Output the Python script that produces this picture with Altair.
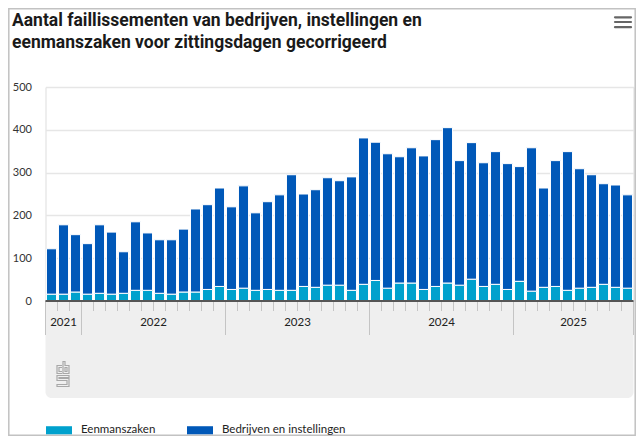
import altair as alt
import pandas as pd

# ---- data (Oct 2021 - Oct 2025, monthly) ----
month_labels = (
    ["2021 okt", "2021 nov", "2021 dec"]
    + [f"{y} {m}" for y in (2022, 2023, 2024) for m in
       ["jan", "feb", "mrt", "apr", "mei", "jun", "jul", "aug", "sep", "okt", "nov", "dec"]]
    + [f"2025 {m}" for m in ["jan", "feb", "mrt", "apr", "mei", "jun", "jul", "aug", "sep", "okt"]]
)
eenmanszaken = [16, 16, 21, 16, 18, 16, 18, 25, 25, 18, 16, 21, 21, 27, 34,
                27, 30, 25, 27, 25, 25, 34, 32, 37, 37, 25, 39,
                48, 30, 42, 42, 27, 34, 42, 37, 51, 34, 39, 27,
                46, 23, 32, 34, 25, 30, 32, 39, 32, 30]
bedrijven = [106, 162, 134, 118, 160, 145, 97, 160, 134, 125, 127, 147, 194, 198, 230,
             193, 239, 181, 205, 223, 270, 216, 228, 251, 244, 265, 342,
             323, 314, 295, 316, 312, 343, 363, 291, 319, 289, 310, 294,
             268, 335, 232, 294, 324, 279, 263, 235, 239, 218]
series_names = ["Eenmanszaken", "Bedrijven en instellingen"]
series_colors = ["#00a1cd", "#0058b8"]

years = ["2021", "2022", "2023", "2024", "2025"]
year_first = [0, 3, 15, 27, 39]
year_last = [2, 14, 26, 38, 48]
y_ticks = [0, 100, 200, 300, 400, 500]

title_lines = ["Aantal faillissementen van bedrijven, instellingen en",
               "eenmanszaken voor zittingsdagen gecorrigeerd"]

FONT = "Lato"
TFONT = "Roboto"
W, H = 588, 214
N = len(month_labels)

rows = []
for i, lab in enumerate(month_labels):
    rows.append({"idx": i, "maand": lab, "reeks": series_names[0], "waarde": eenmanszaken[i], "volg": 0})
    rows.append({"idx": i, "maand": lab, "reeks": series_names[1], "waarde": bedrijven[i], "volg": 1})
bars_df = pd.DataFrame(rows)

xscale = alt.Scale(domain=[-0.5, N - 0.5], nice=False, zero=False)
yscale = alt.Scale(domain=[0, 500], nice=False)

bars = (
    alt.Chart(bars_df)
    .transform_stack(stack="waarde", groupby=["idx"], as_=["v0", "v1"],
                     sort=[alt.SortField("volg", order="ascending")])
    .transform_calculate(x0="datum.idx - 0.42", x1="datum.idx + 0.42")
    .mark_bar(stroke="white", strokeWidth=1)
    .encode(
        x=alt.X("x0:Q", scale=xscale, axis=None),
        x2="x1:Q",
        y=alt.Y("v0:Q", scale=yscale,
                axis=alt.Axis(values=y_ticks, title=None, grid=True, gridColor="#e6e6e6",
                              gridWidth=1.5, domain=False, ticks=False, labelPadding=14,
                              labelFont=FONT, labelFontSize=11, labelColor="#333333")),
        y2="v1:Q",
        color=alt.Color("reeks:N",
                        scale=alt.Scale(domain=series_names, range=series_colors),
                        legend=alt.Legend(orient="none", legendX=0.5, legendY=330,
                                          direction="horizontal", title=None,
                                          symbolType="M-1,-0.31H1V0.31H-1Z", symbolSize=676,
                                          symbolStrokeWidth=0, labelFont=FONT,
                                          labelFontSize=11.5, labelColor="#222222",
                                          labelOffset=9, columnPadding=31)),
        order=alt.Order("volg:Q"),
        tooltip=["maand:N", "reeks:N", "waarde:Q"],
    )
)

# grey band under the x axis
band = alt.Chart(pd.DataFrame({"a": [0]})).mark_rect(
    color="#efefef", cornerRadiusBottomLeft=6, cornerRadiusBottomRight=6
).encode(x=alt.value(0), x2=alt.value(W), y=alt.value(H), y2=alt.value(H + 97))

# month ticks and year separators
sep_pos = [f - 0.5 for f in year_first] + [N - 0.5]
tick_pos = [i + 0.5 for i in range(N - 1) if (i + 0.5) not in sep_pos]
ticks = alt.Chart(pd.DataFrame({"t": tick_pos})).mark_rule(color="#c4c4c4", strokeWidth=1).encode(
    x=alt.X("t:Q", scale=xscale, axis=None), y=alt.value(H), y2=alt.value(H + 10))
seps = alt.Chart(pd.DataFrame({"t": sep_pos})).mark_rule(color="#c4c4c4", strokeWidth=1).encode(
    x=alt.X("t:Q", scale=xscale, axis=None), y=alt.value(H), y2=alt.value(H + 34))

year_df = pd.DataFrame({"jaar": years, "mid": [(a + b) / 2 for a, b in zip(year_first, year_last)]})
year_text = alt.Chart(year_df).mark_text(
    font=FONT, fontSize=11.5, color="#222222", baseline="middle", align="center"
).encode(x=alt.X("mid:Q", scale=xscale, axis=None), y=alt.value(H + 22), text="jaar:N")

zero_line = alt.Chart(pd.DataFrame({"a": [0]})).mark_rule(color="#555555", strokeWidth=2).encode(
    y=alt.datum(0, scale=yscale))

# cbs logo (outline)
logo_path = ("M-0.08,-0.68H-0.48V-0.04H-0.08M-0.08,-0.52H-0.32V-0.2H-0.08"
             "M0,-1V-0.04H0.48V-0.68H0.16V-1Z M0.16,-0.52H0.32V-0.2H0.16Z"
             "M0.48,0.12H-0.48V0.52H0.32V0.84H-0.48V1H0.48V0.36H-0.32V0.28H0.48Z")
logo = alt.Chart(pd.DataFrame({"a": [0]})).mark_point(
    shape=logo_path, filled=False, color="#a8a8a8", strokeWidth=1.2, size=625, opacity=1
).encode(x=alt.value(17.5), y=alt.value(287))

# title lines
title_df = pd.DataFrame({"txt": title_lines, "ty": [-61, -39.5]})
title = alt.Chart(title_df).mark_text(
    font=TFONT, fontSize=17.5, fontWeight="bold", color="#1a1a1a", align="left",
    baseline="alphabetic"
).encode(x=alt.value(-33.5), y=alt.Y("ty:Q", scale=None), text="txt:N")

# menu icon
menu = alt.Chart(pd.DataFrame({"my": [-69.7, -65, -59.8]})).mark_rule(
    color="#666666", strokeWidth=2.2, strokeCap="round"
).encode(x=alt.value(569.5), x2=alt.value(585.5), y=alt.Y("my:Q", scale=None))

# outer frame
frame = alt.Chart(pd.DataFrame({"a": [0]})).mark_rect(
    fill="transparent", stroke="#c2c2c2", strokeWidth=1.5
).encode(x=alt.value(-36.7), x2=alt.value(589.7), y=alt.value(-78.2), y2=alt.value(348.2))

chart = alt.layer(band, ticks, seps, year_text, logo, bars, zero_line, title, menu, frame).properties(
    width=W, height=H,
    autosize=alt.AutoSizeParams(type="none"),
    padding={"left": 37.5, "top": 79, "right": 2.5, "bottom": 135},
).configure_view(strokeWidth=0).configure(font=FONT)

chart.save("out.html", embed_options={"renderer": "svg", "actions": False})
